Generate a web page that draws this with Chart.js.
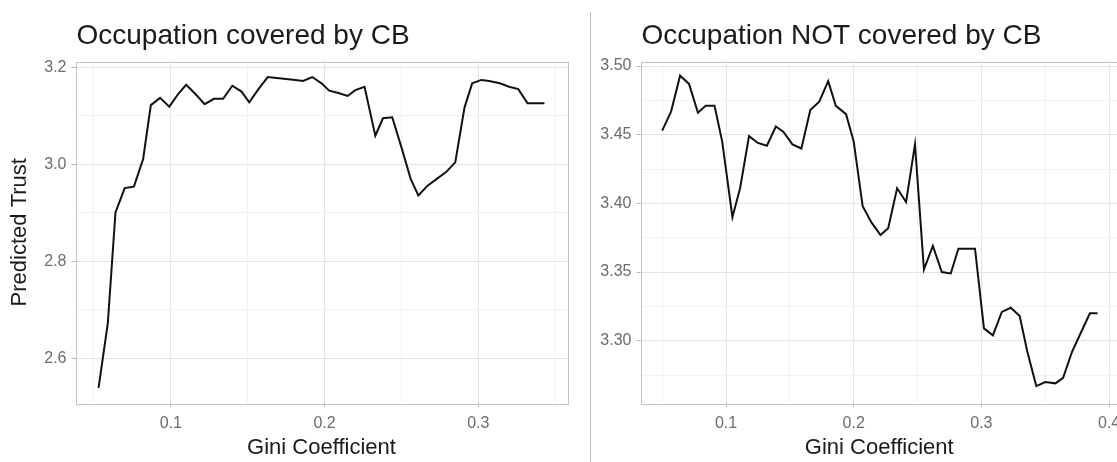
<!DOCTYPE html>
<html>
<head>
<meta charset="utf-8">
<script src="https://cdn.jsdelivr.net/npm/chart.js@4"></script>
<style>
  html, body { margin: 0; padding: 0; background: #fff; }
  body { width: 1117px; height: 462px; overflow: hidden; position: relative; }
  .panel { position: absolute; top: 0; }
  #leftPanel { left: 0; }
  #rightPanel { left: 595px; }
  #divider { position: absolute; left: 590px; top: 12px; width: 1px; height: 450px; background: #bdbdbd; }
</style>
</head>
<body>
<div class="panel" id="leftPanel"><canvas id="leftChart" width="585" height="462"></canvas></div>
<div id="divider"></div>
<div class="panel" id="rightPanel"><canvas id="rightChart" width="560" height="462"></canvas></div>
<script>
// Occupation covered by CB
const leftGini = [0.053, 0.059, 0.064, 0.070, 0.076, 0.082, 0.087, 0.093, 0.099, 0.105,
  0.110, 0.116, 0.122, 0.128, 0.134, 0.140, 0.146, 0.151, 0.157, 0.163,
  0.169, 0.175, 0.181, 0.186, 0.192, 0.198, 0.203, 0.209, 0.215, 0.220,
  0.226, 0.233, 0.238, 0.244, 0.250, 0.256, 0.261, 0.267, 0.273, 0.279,
  0.285, 0.291, 0.296, 0.302, 0.307, 0.314, 0.320, 0.326, 0.332, 0.337, 0.343];
const leftTrust = [2.539, 2.672, 2.901, 2.951, 2.954, 3.011, 3.122, 3.137, 3.119, 3.146,
  3.164, 3.145, 3.124, 3.135, 3.135, 3.162, 3.150, 3.128, 3.155, 3.180,
  3.178, 3.176, 3.174, 3.172, 3.180, 3.167, 3.152, 3.147, 3.141, 3.153,
  3.160, 3.059, 3.095, 3.097, 3.035, 2.970, 2.936, 2.956, 2.970, 2.984,
  3.004, 3.117, 3.167, 3.174, 3.172, 3.167, 3.160, 3.155, 3.126, 3.126, 3.126];

// Occupation NOT covered by CB
const rightGini = [0.050, 0.057, 0.064, 0.071, 0.078, 0.084, 0.091, 0.097, 0.105, 0.111,
  0.118, 0.125, 0.132, 0.139, 0.145, 0.152, 0.159, 0.166, 0.173, 0.180,
  0.186, 0.194, 0.200, 0.207, 0.214, 0.221, 0.227, 0.234, 0.241, 0.248,
  0.255, 0.262, 0.269, 0.276, 0.282, 0.289, 0.295, 0.302, 0.309, 0.316,
  0.323, 0.330, 0.336, 0.343, 0.350, 0.358, 0.364, 0.371, 0.377, 0.385, 0.391];
const rightTrust = [3.453, 3.467, 3.493, 3.487, 3.466, 3.471, 3.471, 3.445, 3.390, 3.411,
  3.449, 3.444, 3.442, 3.456, 3.452, 3.443, 3.440, 3.468, 3.474, 3.489,
  3.471, 3.465, 3.445, 3.398, 3.386, 3.377, 3.382, 3.411, 3.401, 3.443,
  3.352, 3.369, 3.350, 3.349, 3.367, 3.367, 3.367, 3.309, 3.304, 3.321,
  3.324, 3.318, 3.292, 3.267, 3.270, 3.269, 3.273, 3.292, 3.304, 3.320, 3.320];

const leftTitle = "Occupation covered by CB";
const rightTitle = "Occupation NOT covered by CB";
const xTitle = "Gini Coefficient";
const yTitle = "Predicted Trust";

const FONT = '"Liberation Sans", Arial, Helvetica, sans-serif';
const MAJOR_GRID = "#e4e4e4";
const MINOR_GRID = "#f1f1f1";
const TICK_COLOR = "#b5b5b5";
const LABEL_COLOR = "#6b6b6b";

// is value a multiple of step (float safe)
function onStep(v, step) {
  const r = v / step;
  return Math.abs(r - Math.round(r)) < 1e-6;
}

// draws the panel title and the grey box round the plot
const panelDecor = {
  id: "panelDecor",
  afterDraw(chart, args, opts) {
    const { ctx, chartArea } = chart;
    ctx.save();
    ctx.strokeStyle = "#c4c4c4";
    ctx.lineWidth = 1;
    ctx.strokeRect(Math.round(chartArea.left) + 0.5, Math.round(chartArea.top) + 0.5,
      Math.round(chartArea.right - chartArea.left), Math.round(chartArea.bottom - chartArea.top));
    ctx.font = "28px " + FONT;
    ctx.fillStyle = "#1a1a1a";
    ctx.textBaseline = "alphabetic";
    ctx.fillText(opts.text, chartArea.left + 1, 44);
    ctx.restore();
  }
};

function makePanel(id, gini, trust, cfg) {
  const points = gini.map((g, i) => ({ x: g, y: trust[i] }));
  return new Chart(document.getElementById(id), {
    type: "line",
    data: {
      datasets: [{
        data: points,
        borderColor: "#111",
        borderWidth: 2,
        pointRadius: 0,
        tension: 0,
        fill: false
      }]
    },
    options: {
      responsive: false,
      animation: false,
      devicePixelRatio: 1,
      layout: { padding: { top: 61.5, right: cfg.padRight, bottom: 0, left: 0 } },
      plugins: {
        legend: { display: false },
        tooltip: { enabled: false },
        panelDecor: { text: cfg.title }
      },
      scales: {
        x: {
          type: "linear",
          min: cfg.xMin,
          max: cfg.xMax,
          afterFit: s => { s.height = 59; },
          border: { display: false },
          grid: {
            color: c => onStep(c.tick.value, 0.1) ? MAJOR_GRID : MINOR_GRID,
            tickColor: c => onStep(c.tick.value, 0.1) ? TICK_COLOR : "rgba(0,0,0,0)",
            tickLength: 4
          },
          ticks: {
            stepSize: 0.05,
            includeBounds: false,
            autoSkip: false,
            maxRotation: 0,
            maxTicksLimit: 30,
            padding: 7,
            color: LABEL_COLOR,
            font: { family: FONT, size: 16 },
            callback: v => onStep(v, 0.1) ? v.toFixed(1) : ""
          },
          title: {
            display: true,
            text: xTitle,
            color: "#1a1a1a",
            font: { family: FONT, size: 22, lineHeight: 1 },
            padding: { top: 0, bottom: 3 }
          }
        },
        y: {
          type: "linear",
          min: cfg.yMin,
          max: cfg.yMax,
          afterFit: s => { s.width = cfg.yWidth; },
          border: { display: false },
          grid: {
            color: c => onStep(c.tick.value, cfg.yLabelStep) ? MAJOR_GRID : MINOR_GRID,
            tickColor: c => onStep(c.tick.value, cfg.yLabelStep) ? TICK_COLOR : "rgba(0,0,0,0)",
            tickLength: 4
          },
          ticks: {
            stepSize: cfg.yStep,
            includeBounds: false,
            autoSkip: false,
            maxTicksLimit: 30,
            padding: 5,
            color: LABEL_COLOR,
            font: { family: FONT, size: 16 },
            callback: v => onStep(v, cfg.yLabelStep) ? v.toFixed(cfg.yDigits) : ""
          },
          title: {
            display: cfg.showYTitle,
            text: yTitle,
            color: "#1a1a1a",
            font: { family: FONT, size: 22, lineHeight: 1 },
            padding: { top: 9, bottom: 0 }
          }
        }
      }
    },
    plugins: [panelDecor]
  });
}

makePanel("leftChart", leftGini, leftTrust, {
  title: leftTitle,
  xMin: 0.038, xMax: 0.358,
  yMin: 2.508, yMax: 3.212,
  yStep: 0.1, yLabelStep: 0.2, yDigits: 1,
  yWidth: 75.5, padRight: 17.5,
  showYTitle: true
});

makePanel("rightChart", rightGini, rightTrust, {
  title: rightTitle,
  xMin: 0.033, xMax: 0.407,
  yMin: 3.2547, yMax: 3.5033,
  yStep: 0.025, yLabelStep: 0.05, yDigits: 2,
  yWidth: 45.5, padRight: 37,
  showYTitle: false
});
</script>
</body>
</html>
